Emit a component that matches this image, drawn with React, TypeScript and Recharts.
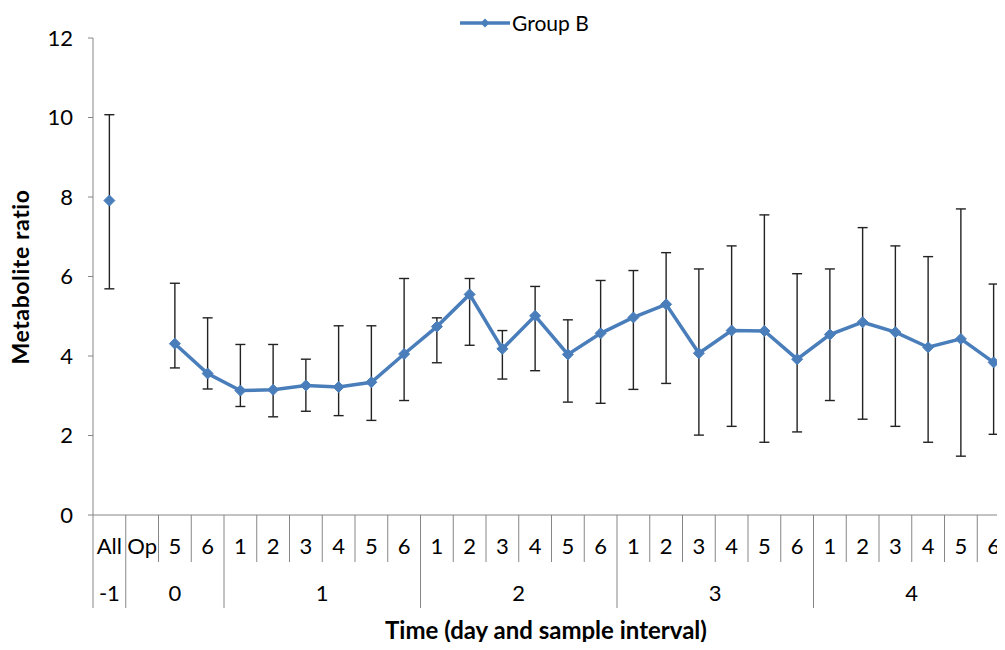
import { LineChart, Line, XAxis, YAxis, ErrorBar, Legend, Label } from "recharts";

// day groups and the sample intervals inside each one
const dayLabels = ["-1", "0", "1", "2", "3", "4"];
const intervalsPerDay = [
  ["All"],
  ["Op", "5", "6"],
  ["1", "2", "3", "4", "5", "6"],
  ["1", "2", "3", "4", "5", "6"],
  ["1", "2", "3", "4", "5", "6"],
  ["1", "2", "3", "4", "5", "6"],
];

// Group B mean metabolite ratio, null where no sample
const means = [
  7.91, null, 4.31, 3.56,
  3.13, 3.15, 3.26, 3.22, 3.34, 4.05,
  4.74, 5.55, 4.18, 5.01, 4.04, 4.57,
  4.97, 5.3, 4.07, 4.64, 4.63, 3.92,
  4.54, 4.85, 4.6, 4.22, 4.43, 3.84,
];
// bottom and top of each error bar
const lows = [
  5.69, null, 3.7, 3.17,
  2.73, 2.47, 2.61, 2.5, 2.38, 2.88,
  3.83, 4.27, 3.42, 3.63, 2.84, 2.81,
  3.16, 3.31, 2.01, 2.23, 1.83, 2.09,
  2.88, 2.41, 2.23, 1.83, 1.48, 2.03,
];
const highs = [
  10.07, null, 5.83, 4.96,
  4.29, 4.29, 3.92, 4.76, 4.76, 5.95,
  4.96, 5.95, 4.64, 5.75, 4.91, 5.9,
  6.15, 6.6, 6.19, 6.77, 7.55, 6.07,
  6.19, 7.23, 6.77, 6.5, 7.7, 5.81,
];
const yTicks = [0, 2, 4, 6, 8, 10, 12];

const FONT = "Lato, 'Open Sans', sans-serif";
const BLUE = "#4a7ebb";
const AXIS = "#868686";

const CHART_W = 1015;
const CHART_H = 650;
const MARGIN = { top: 38, right: 5, bottom: 0, left: 33 };
const Y_AXIS_W = 60;
const X_AXIS_H = 135;

type Row = {
  key: string;
  interval: string;
  day: string;
  first: boolean;
  count: number;
  value: number | null;
  err: [number, number] | null;
};

const rows: Row[] = [];
intervalsPerDay.forEach((list, d) => {
  list.forEach((interval, j) => {
    const i = rows.length;
    const v = means[i];
    rows.push({
      key: `${dayLabels[d]}|${interval}`,
      interval,
      day: dayLabels[d],
      first: j === 0,
      count: list.length,
      value: v,
      err: v == null ? null : [v - (lows[i] as number), (highs[i] as number) - v],
    });
  });
});

const STEP = (CHART_W - MARGIN.left - MARGIN.right - Y_AXIS_W) / rows.length;

function CategoryTick(props: any) {
  const { x, y, index } = props;
  const row = rows[index];
  if (!row) return null;
  const left = x - STEP / 2;
  return (
    <g>
      <line x1={left} x2={left} y1={y} y2={y + (row.first ? 93 : 47)} stroke={AXIS} />
      <text x={x} y={y + 39} textAnchor="middle" fontSize={22} fontFamily={FONT} fill="#000">
        {row.interval}
      </text>
      {row.first && (
        <text x={left + (row.count * STEP) / 2} y={y + 86} textAnchor="middle" fontSize={22} fontFamily={FONT} fill="#000">
          {row.day}
        </text>
      )}
      {index === rows.length - 1 && (
        <line x1={x + STEP / 2} x2={x + STEP / 2} y1={y} y2={y + 93} stroke={AXIS} />
      )}
    </g>
  );
}

function Diamond(props: any) {
  const { cx, cy, index } = props;
  if (cx == null || cy == null || rows[index]?.value == null) return <g key={`d-${index}`} />;
  const r = 5.5;
  return (
    <path
      key={`d-${index}`}
      d={`M${cx},${cy - r}L${cx + r},${cy}L${cx},${cy + r}L${cx - r},${cy}Z`}
      fill={BLUE}
      stroke={BLUE}
    />
  );
}

function LegendContent() {
  return (
    <div style={{ display: "flex", alignItems: "center", fontFamily: FONT, fontSize: 21, color: "#000" }}>
      <svg width={50} height={14}>
        <line x1={0} x2={50} y1={7} y2={7} stroke={BLUE} strokeWidth={3.5} />
        <path d="M25,2.5L29.5,7L25,11.5L20.5,7Z" fill={BLUE} />
      </svg>
      <span style={{ marginLeft: 2 }}>Group B</span>
    </div>
  );
}

export default function App() {
  return (
    <div style={{ margin: -8, width: 1005, height: 650, overflow: "hidden", background: "#fff" }}>
      <LineChart width={CHART_W} height={CHART_H} data={rows} margin={MARGIN}>
        <XAxis
          dataKey="key"
          scale="band"
          interval={0}
          height={X_AXIS_H}
          tickLine={false}
          tickSize={0}
          tickMargin={0}
          axisLine={{ stroke: AXIS }}
          tick={<CategoryTick />}
        >
          <Label
            content={() => (
              <text x={546} y={639} textAnchor="middle" fontSize={24} fontWeight="bold" fontFamily={FONT} fill="#000">
                Time (day and sample interval)
              </text>
            )}
          />
        </XAxis>
        <YAxis
          width={Y_AXIS_W}
          domain={[0, 12]}
          ticks={yTicks}
          interval={0}
          tickSize={5}
          tickMargin={15}
          tickLine={{ stroke: AXIS }}
          axisLine={{ stroke: AXIS }}
          tick={{ fontSize: 22, fontFamily: FONT, fill: "#000" }}
        >
          <Label
            content={() => (
              <text
                x={20}
                y={277}
                transform="rotate(-90 20 277)"
                textAnchor="middle"
                dominantBaseline="central"
                fontSize={23}
                letterSpacing={0.6}
                fontWeight="bold"
                fontFamily={FONT}
                fill="#000"
              >
                Metabolite ratio
              </text>
            )}
          />
        </YAxis>
        <Legend
          verticalAlign="middle"
          align="center"
          layout="horizontal"
          content={<LegendContent />}
          wrapperStyle={{ top: 10, left: 460, width: "auto", height: "auto" }}
        />
        <Line
          type="linear"
          dataKey="value"
          stroke={BLUE}
          strokeWidth={3.5}
          dot={<Diamond />}
          activeDot={false}
          connectNulls={false}
          isAnimationActive={false}
        >
          <ErrorBar dataKey="err" direction="y" width={5} stroke="#222" strokeWidth={1.4} />
        </Line>
      </LineChart>
    </div>
  );
}
